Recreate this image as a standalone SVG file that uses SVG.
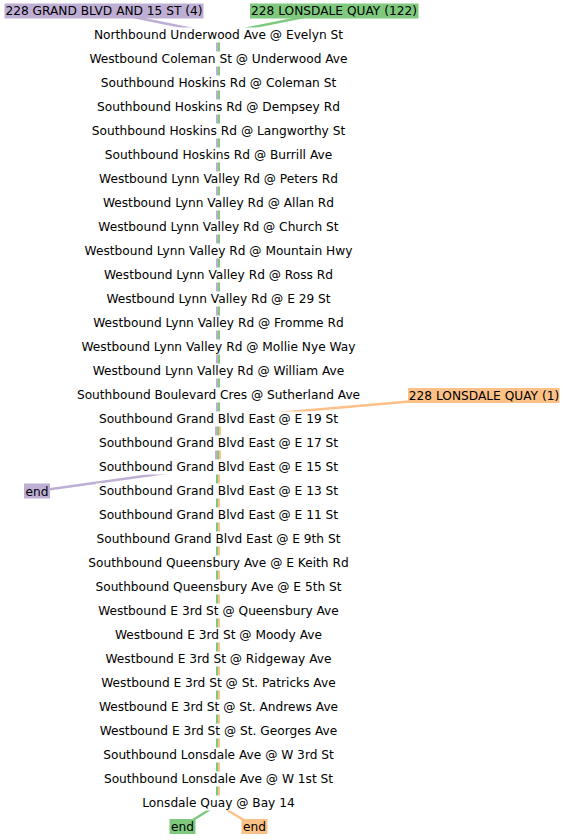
<svg xmlns="http://www.w3.org/2000/svg" width="565" height="840" viewBox="0 0 565 840">
<style>
text{font-family:"DejaVu Sans",sans-serif;font-size:12.2px;fill:#000}
.lbl text{text-anchor:middle}
.bg{fill:#fff}
.p{stroke:#beaed4}
.g{stroke:#7fc97f}
.o{stroke:#fdc086}
#connectors line{stroke-width:2;fill:none}
#connectors .c{stroke-width:2.5}
</style>
<rect width="565" height="840" fill="#fff"/>
<g id="connectors">
<line class="p c" x1="104" y1="11" x2="217" y2="34"/>
<line class="g c" x1="334" y1="11" x2="219" y2="34"/>
<line class="o c" x1="484" y1="395" x2="220" y2="418"/>
<line class="p c" x1="216" y1="466" x2="37" y2="491"/>
<line class="g c" x1="217" y1="805" x2="182.5" y2="826.5"/>
<line class="o c" x1="219" y1="805" x2="254.5" y2="826.5"/>
<line class="p" x1="217" y1="34" x2="217" y2="418"/>
<line class="g" x1="219" y1="34" x2="219" y2="418"/>
<line class="p" x1="216" y1="418" x2="216" y2="466"/>
<line class="g" x1="218" y1="418" x2="218" y2="466"/>
<line class="o" x1="220" y1="418" x2="220" y2="466"/>
<line class="g" x1="217" y1="466" x2="217" y2="802"/>
<line class="o" x1="219" y1="466" x2="219" y2="802"/>
</g>
<g class="lbl">
<g id="s0"><rect class="bg" x="93" y="27.5" width="251" height="15"/><text x="218.5" y="39">Northbound Underwood Ave @ Evelyn St</text></g>
<g id="s1"><rect class="bg" x="88" y="51.5" width="261" height="15"/><text x="218.5" y="63">Westbound Coleman St @ Underwood Ave</text></g>
<g id="s2"><rect class="bg" x="100" y="75.5" width="237" height="15"/><text x="218.5" y="87">Southbound Hoskins Rd @ Coleman St</text></g>
<g id="s3"><rect class="bg" x="96" y="99.5" width="245" height="15"/><text x="218.5" y="111">Southbound Hoskins Rd @ Dempsey Rd</text></g>
<g id="s4"><rect class="bg" x="89" y="123.5" width="259" height="15"/><text x="218.5" y="135">Southbound Hoskins Rd @ Langworthy St</text></g>
<g id="s5"><rect class="bg" x="103" y="147.5" width="231" height="15"/><text x="218.5" y="159">Southbound Hoskins Rd @ Burrill Ave</text></g>
<g id="s6"><rect class="bg" x="98" y="171.5" width="241" height="15"/><text x="218.5" y="183">Westbound Lynn Valley Rd @ Peters Rd</text></g>
<g id="s7"><rect class="bg" x="102" y="195.5" width="233" height="15"/><text x="218.5" y="207">Westbound Lynn Valley Rd @ Allan Rd</text></g>
<g id="s8"><rect class="bg" x="96" y="219.5" width="245" height="15"/><text x="218.5" y="231">Westbound Lynn Valley Rd @ Church St</text></g>
<g id="s9"><rect class="bg" x="84" y="243.5" width="269" height="15"/><text x="218.5" y="255">Westbound Lynn Valley Rd @ Mountain Hwy</text></g>
<g id="s10"><rect class="bg" x="103" y="267.5" width="231" height="15"/><text x="218.5" y="279">Westbound Lynn Valley Rd @ Ross Rd</text></g>
<g id="s11"><rect class="bg" x="104" y="291.5" width="229" height="15"/><text x="218.5" y="303">Westbound Lynn Valley Rd @ E 29 St</text></g>
<g id="s12"><rect class="bg" x="92" y="315.5" width="253" height="15"/><text x="218.5" y="327">Westbound Lynn Valley Rd @ Fromme Rd</text></g>
<g id="s13"><rect class="bg" x="82" y="339.5" width="273" height="15"/><text x="218.5" y="351">Westbound Lynn Valley Rd @ Mollie Nye Way</text></g>
<g id="s14"><rect class="bg" x="92" y="363.5" width="253" height="15"/><text x="218.5" y="375">Westbound Lynn Valley Rd @ William Ave</text></g>
<g id="s15"><rect class="bg" x="75" y="387.5" width="287" height="15"/><text x="218.5" y="399">Southbound Boulevard Cres @ Sutherland Ave</text></g>
<g id="s16"><rect class="bg" x="96" y="411.5" width="245" height="15"/><text x="218.5" y="423">Southbound Grand Blvd East @ E 19 St</text></g>
<g id="s17"><rect class="bg" x="96" y="435.5" width="245" height="15"/><text x="218.5" y="447">Southbound Grand Blvd East @ E 17 St</text></g>
<g id="s18"><rect class="bg" x="96" y="459.5" width="245" height="15"/><text x="218.5" y="471">Southbound Grand Blvd East @ E 15 St</text></g>
<g id="s19"><rect class="bg" x="96" y="483.5" width="245" height="15"/><text x="218.5" y="495">Southbound Grand Blvd East @ E 13 St</text></g>
<g id="s20"><rect class="bg" x="96" y="507.5" width="245" height="15"/><text x="218.5" y="519">Southbound Grand Blvd East @ E 11 St</text></g>
<g id="s21"><rect class="bg" x="93" y="531.5" width="251" height="15"/><text x="218.5" y="543">Southbound Grand Blvd East @ E 9th St</text></g>
<g id="s22"><rect class="bg" x="86" y="555.5" width="265" height="15"/><text x="218.5" y="567">Southbound Queensbury Ave @ E Keith Rd</text></g>
<g id="s23"><rect class="bg" x="92" y="579.5" width="253" height="15"/><text x="218.5" y="591">Southbound Queensbury Ave @ E 5th St</text></g>
<g id="s24"><rect class="bg" x="96" y="603.5" width="245" height="15"/><text x="218.5" y="615">Westbound E 3rd St @ Queensbury Ave</text></g>
<g id="s25"><rect class="bg" x="113" y="627.5" width="211" height="15"/><text x="218.5" y="639">Westbound E 3rd St @ Moody Ave</text></g>
<g id="s26"><rect class="bg" x="103" y="651.5" width="231" height="15"/><text x="218.5" y="663">Westbound E 3rd St @ Ridgeway Ave</text></g>
<g id="s27"><rect class="bg" x="98" y="675.5" width="241" height="15"/><text x="218.5" y="687">Westbound E 3rd St @ St. Patricks Ave</text></g>
<g id="s28"><rect class="bg" x="96" y="699.5" width="245" height="15"/><text x="218.5" y="711">Westbound E 3rd St @ St. Andrews Ave</text></g>
<g id="s29"><rect class="bg" x="96" y="723.5" width="245" height="15"/><text x="218.5" y="735">Westbound E 3rd St @ St. Georges Ave</text></g>
<g id="s30"><rect class="bg" x="101" y="747.5" width="235" height="15"/><text x="218.5" y="759">Southbound Lonsdale Ave @ W 3rd St</text></g>
<g id="s31"><rect class="bg" x="102" y="771.5" width="233" height="15"/><text x="218.5" y="783">Southbound Lonsdale Ave @ W 1st St</text></g>
<g id="s32"><rect class="bg" x="142" y="795.5" width="153" height="15"/><text x="218.5" y="807">Lonsdale Quay @ Bay 14</text></g>
</g>
<g id="src-purple"><rect x="4.5" y="3.5" width="199" height="15" fill="#beaed4"/><text x="104" y="15" text-anchor="middle">228 GRAND BLVD AND 15 ST (4)</text></g>
<g id="src-green"><rect x="250" y="3.5" width="168.5" height="15" fill="#7fc97f"/><text x="334" y="15" text-anchor="middle">228 LONSDALE QUAY (122)</text></g>
<g id="src-orange"><rect x="408" y="388" width="151.5" height="15" fill="#fdc086"/><text x="484" y="399.5" text-anchor="middle">228 LONSDALE QUAY (1)</text></g>
<g id="end-purple"><rect x="24" y="483.5" width="26" height="15" fill="#beaed4"/><text x="37" y="495.5" text-anchor="middle">end</text></g>
<g id="end-green"><rect x="169.5" y="819" width="26" height="15" fill="#7fc97f"/><text x="182.5" y="831" text-anchor="middle">end</text></g>
<g id="end-orange"><rect x="241.5" y="819" width="26" height="15" fill="#fdc086"/><text x="254.5" y="831" text-anchor="middle">end</text></g>
</svg>
